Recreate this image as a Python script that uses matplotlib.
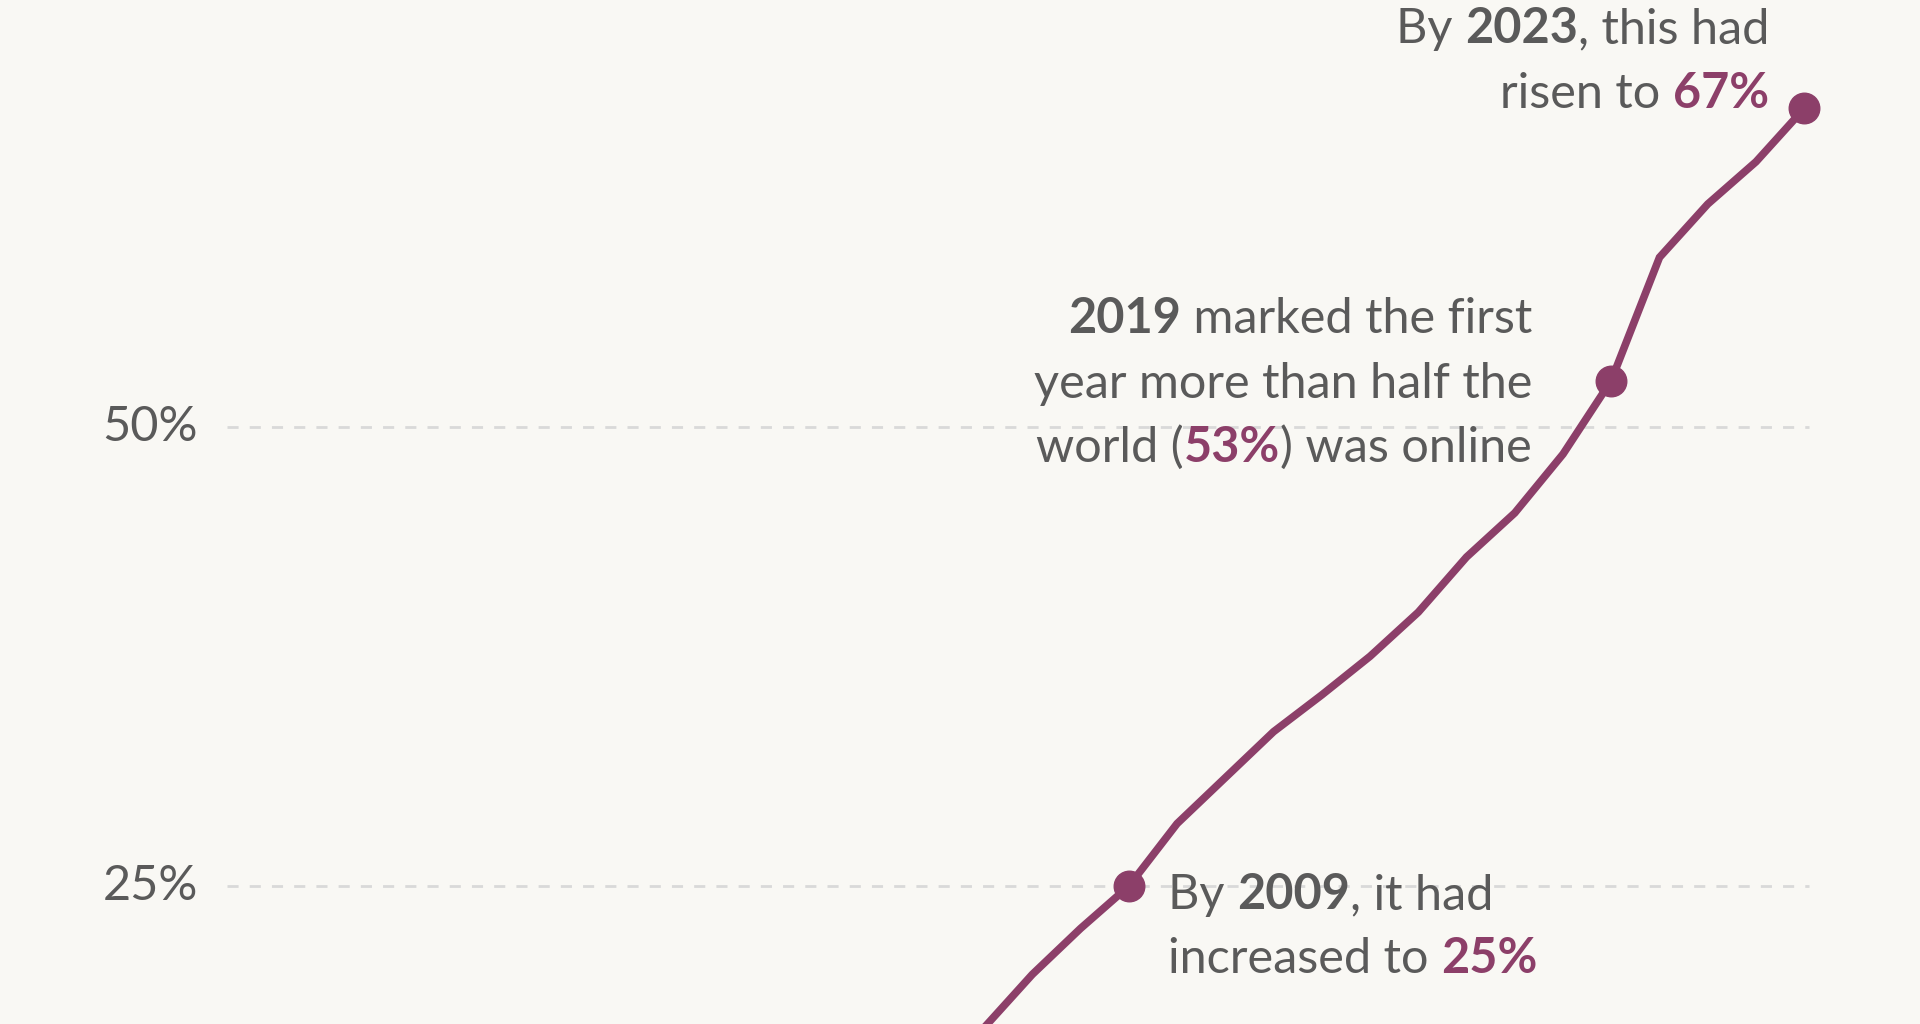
import matplotlib
matplotlib.use("Agg")
import matplotlib.pyplot as plt

years = [2004, 2005, 2006, 2007, 2008, 2009, 2010, 2011, 2012, 2013, 2014, 2015,
         2016, 2017, 2018, 2019, 2020, 2021, 2022, 2023]
share = [13.5, 15.6, 17.3, 20.2, 22.7, 25.0, 28.4, 30.9, 33.4, 35.4, 37.5, 39.9,
         42.9, 45.3, 48.5, 52.5, 59.2, 62.1, 64.4, 67.3]
highlight_years = [2009, 2019, 2023]
grid_values = [25, 50]
grid_labels = ["25%", "50%"]

BG = "#f9f8f4"
PURPLE = "#8c3f69"
GRAY = "#5a5a5a"
FS = 35

fig = plt.figure(figsize=(19.2, 10.24), dpi=100, facecolor=BG)
ax = fig.add_axes([0, 0, 1, 1], facecolor=BG)
ax.set_xlim(1985.6, 2025.4)
ax.set_ylim(17.5, 73.2)
ax.axis("off")

ax.hlines(grid_values, 1990.3, 2023.1, colors="#d9d9d9", linestyles=(0, (4, 4)), linewidth=2)
for v, lab in zip(grid_values, grid_labels):
    ax.text(1989.7, v, lab, ha="right", va="center", fontsize=FS, color=GRAY, family="Lato")

ax.plot(years, share, color=PURPLE, linewidth=5.5, solid_joinstyle="miter", zorder=3)
hv = [share[years.index(y)] for y in highlight_years]
ax.plot(highlight_years, hv, "o", color=PURPLE, markersize=22, zorder=4, linestyle="none")

fig.canvas.draw()
renderer = fig.canvas.get_renderer()
W, H = 1920, 1024

def draw_line(x, y, segs, ha="left"):
    objs = []
    widths = []
    for s, bold, col in segs:
        t = fig.text(0, 0, s, fontsize=FS, family="Lato",
                     fontweight="bold" if bold else "normal", color=col, va="baseline")
        objs.append(t)
    # measure including trailing spaces handled by using widths of text
    for t in objs:
        widths.append(t.get_window_extent(renderer).width)
    total = sum(widths)
    cx = x - total if ha == "right" else x
    for t, w in zip(objs, widths):
        t.set_position((cx / W, 1 - y / H))
        cx += w

def seg(s, bold=False, col=GRAY):
    return (s, bold, col)

sp = "\u2009"
draw_line(1769, 43, [seg("By "), seg("2023", True), seg(", this had")], "right")
draw_line(1769, 108, [seg("risen to "), seg("67%", True, PURPLE)], "right")

draw_line(1532, 333, [seg("2019", True), seg(" marked the first")], "right")
draw_line(1532, 398, [seg("year more than half the")], "right")
draw_line(1532, 462, [seg("world ("), seg("53%", True, PURPLE), seg(") was online")], "right")

draw_line(1168, 909, [seg("By "), seg("2009", True), seg(", it had")], "left")
draw_line(1168, 973, [seg("increased to "), seg("25%", True, PURPLE)], "left")

fig.savefig("out.png", dpi=100, facecolor=BG)
